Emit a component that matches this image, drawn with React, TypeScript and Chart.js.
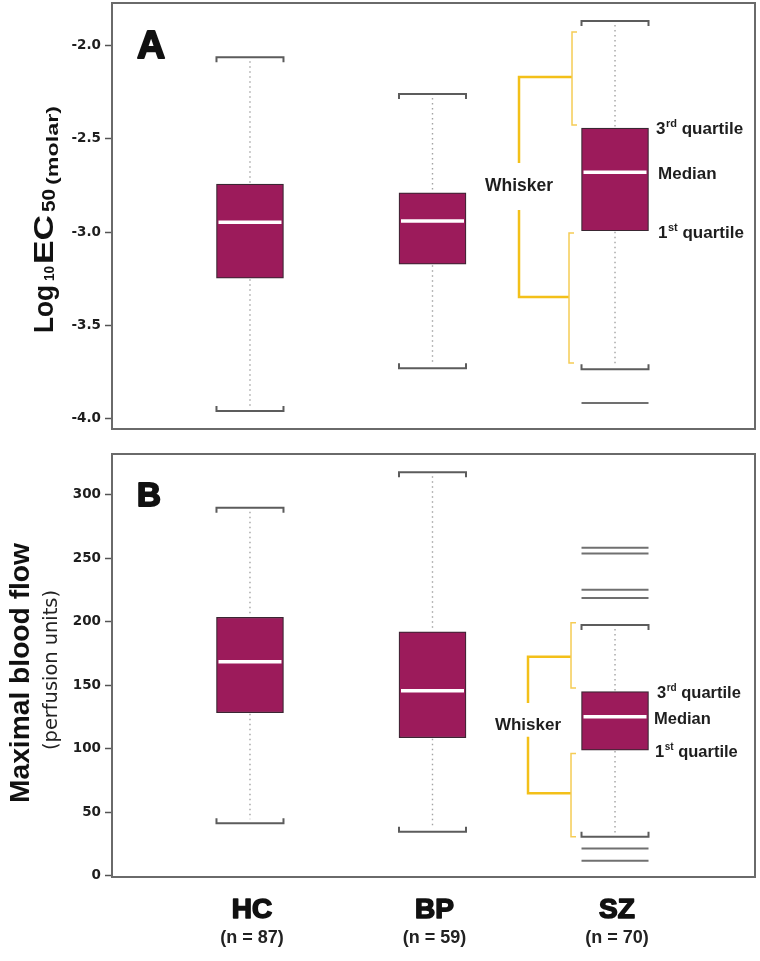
import React, { useEffect, useRef } from 'react';
import { Chart, registerables } from 'chart.js';

Chart.register(...registerables);

// ---------- data ----------
const groups = ['HC', 'BP', 'SZ'];
const groupCounts = ['(n = 87)', '(n = 59)', '(n = 70)'];

// Panel A: Log10 EC50 (molar)
const ecWhiskerLow = [-3.958, -3.728, -3.734];
const ecQ1 = [-3.246, -3.171, -2.992];
const ecMedian = [-2.946, -2.94, -2.678];
const ecQ3 = [-2.742, -2.789, -2.442];
const ecWhiskerHigh = [-2.062, -2.26, -1.869];
const ecOutliers = [[], [], [-3.915]];
const ecTicks = [-2.0, -2.5, -3.0, -3.5, -4.0];

// Panel B: Maximal blood flow (perfusion units)
const flowWhiskerLow = [41.4, 34.8, 30.9];
const flowQ1 = [128.4, 108.7, 99.0];
const flowMedian = [168.5, 145.7, 125.2];
const flowQ3 = [203.4, 192.0, 144.9];
const flowWhiskerHigh = [289.5, 317.4, 197.3];
const flowOutliers = [[], [], [258, 253.6, 225, 218.5, 21.7, 12.0]];
const flowTicks = [0, 50, 100, 150, 200, 250, 300];

// Annotation ("Whisker" guide) value spans
const ecGuide = { upper: [-1.928, -2.426], lower: [-3.004, -3.70], upperArm: -2.169, lowerArm: -3.347, upperStemEnd: -2.629, lowerStemStart: -2.881, textAt: -2.747 };
const flowGuide = { upper: [199.1, 147.8], lower: [96.4, 30.9], upperArm: 172.4, lowerArm: 65.0, upperStemEnd: 136.0, lowerStemStart: 109.5, textAt: 119.5 };

// ---------- styles ----------
const BOX_COLOR = '#9c1b5b';
const BOX_BORDER = '#3a2632';
const BOX_W = 67;
const FONT = '"Liberation Sans", Arial, sans-serif';
const YELLOW = '#f3c019';
const YELLOW_LIGHT = '#f5cc55';

function fitText(ctx: CanvasRenderingContext2D, text: string, x: number, y: number, font: string, target?: number) {
  ctx.font = font;
  const w = ctx.measureText(text).width;
  if (!target) { ctx.fillText(text, x, y); return w; }
  ctx.save();
  ctx.translate(x, y);
  ctx.scale(target / w, 1);
  ctx.fillText(text, 0, 0);
  ctx.restore();
  return target;
}

function line(ctx: CanvasRenderingContext2D, x1: number, y1: number, x2: number, y2: number) {
  ctx.beginPath(); ctx.moveTo(x1, y1); ctx.lineTo(x2, y2); ctx.stroke();
}

function ordinal(ctx: CanvasRenderingContext2D, num: string, sup: string, rest: string, x: number, y: number, size: number) {
  ctx.textAlign = 'left';
  ctx.font = `bold ${size}px ${FONT}`;
  ctx.fillText(num, x, y);
  let w = ctx.measureText(num).width + 0.5;
  ctx.font = `bold ${Math.round(size * 0.62)}px ${FONT}`;
  ctx.fillText(sup, x + w, y - size * 0.4);
  w += ctx.measureText(sup).width;
  ctx.font = `bold ${size}px ${FONT}`;
  ctx.fillText(rest, x + w, y);
}

interface PanelCfg {
  key: string;
  low: number[]; q1: number[]; med: number[]; q3: number[]; high: number[]; outliers: number[][];
  ticks: number[]; decimals: number; min: number; max: number;
  guide: typeof ecGuide;
  padTop: number; padBottom: number;
  stemDx: number; bracketDxU: number; bracketDxL: number;
  labelSize: number; labelDx: [number, number, number];
  letter: string; letterSize: number; letterDy: number;
  drawTitle: (ctx: CanvasRenderingContext2D) => void;
  drawXLabels: boolean;
}

function makePlugin(p: PanelCfg) {
  return {
    id: 'boxExtras' + p.key,
    afterDatasetsDraw(chart: any) {
      const ctx: CanvasRenderingContext2D = chart.ctx;
      const xs = chart.scales.x;
      const ys = chart.scales.y;
      const ca = chart.chartArea;
      const half = BOX_W / 2;
      ctx.save();
      for (let i = 0; i < groups.length; i++) {
        const cx = xs.getPixelForValue(i);
        const yLow = ys.getPixelForValue(p.low[i]);
        const yHigh = ys.getPixelForValue(p.high[i]);
        const yQ1 = ys.getPixelForValue(p.q1[i]);
        const yQ3 = ys.getPixelForValue(p.q3[i]);
        const yMed = ys.getPixelForValue(p.med[i]);
        // dotted whisker stems
        ctx.strokeStyle = '#a3a3a3';
        ctx.lineWidth = 1.4;
        ctx.setLineDash([1.5, 3.5]);
        line(ctx, cx, yHigh + 4, cx, yQ3 - 1);
        line(ctx, cx, yQ1 + 1, cx, yLow - 4);
        ctx.setLineDash([]);
        // caps (bracket style)
        ctx.strokeStyle = '#5c5c5c';
        ctx.lineWidth = 2;
        ctx.beginPath();
        ctx.moveTo(cx - half, yHigh + 5); ctx.lineTo(cx - half, yHigh); ctx.lineTo(cx + half, yHigh); ctx.lineTo(cx + half, yHigh + 5);
        ctx.stroke();
        ctx.beginPath();
        ctx.moveTo(cx - half, yLow - 5); ctx.lineTo(cx - half, yLow); ctx.lineTo(cx + half, yLow); ctx.lineTo(cx + half, yLow - 5);
        ctx.stroke();
        // median
        ctx.strokeStyle = '#ffffff';
        ctx.lineWidth = 3.5;
        line(ctx, cx - half + 2, yMed, cx + half - 2, yMed);
        // outliers
        ctx.strokeStyle = '#707070';
        ctx.lineWidth = 2;
        for (const o of p.outliers[i]) {
          const yo = ys.getPixelForValue(o);
          line(ctx, cx - half, yo, cx + half, yo);
        }
      }
      // frame
      ctx.strokeStyle = '#6a6a6a';
      ctx.lineWidth = 2;
      ctx.strokeRect(ca.left, ca.top, ca.right - ca.left, ca.bottom - ca.top);

      // Whisker guide on the SZ box
      const sz = groups.length - 1;
      const cx = xs.getPixelForValue(sz);
      const g = p.guide;
      const stemX = cx + p.stemDx;
      const bxU = cx + p.bracketDxU;
      const bxL = cx + p.bracketDxL;
      const Y = (v: number) => ys.getPixelForValue(v);
      ctx.strokeStyle = YELLOW;
      ctx.lineWidth = 2.5;
      ctx.beginPath();
      ctx.moveTo(stemX, Y(g.upperStemEnd)); ctx.lineTo(stemX, Y(g.upperArm)); ctx.lineTo(bxU, Y(g.upperArm));
      ctx.stroke();
      ctx.beginPath();
      ctx.moveTo(stemX, Y(g.lowerStemStart)); ctx.lineTo(stemX, Y(g.lowerArm)); ctx.lineTo(bxL, Y(g.lowerArm));
      ctx.stroke();
      ctx.strokeStyle = YELLOW_LIGHT;
      ctx.lineWidth = 1.5;
      ctx.beginPath();
      ctx.moveTo(bxU + 5, Y(g.upper[0])); ctx.lineTo(bxU, Y(g.upper[0])); ctx.lineTo(bxU, Y(g.upper[1])); ctx.lineTo(bxU + 5, Y(g.upper[1]));
      ctx.stroke();
      ctx.beginPath();
      ctx.moveTo(bxL + 5, Y(g.lower[0])); ctx.lineTo(bxL, Y(g.lower[0])); ctx.lineTo(bxL, Y(g.lower[1])); ctx.lineTo(bxL + 5, Y(g.lower[1]));
      ctx.stroke();

      ctx.fillStyle = '#1e1e1e';
      ctx.textBaseline = 'alphabetic';
      ctx.textAlign = 'center';
      ctx.font = `bold ${p.labelSize + 0.5}px ${FONT}`;
      ctx.fillText('Whisker', stemX, Y(g.textAt) + 6);
      const s = p.labelSize;
      ordinal(ctx, '3', 'rd', ' quartile', cx + p.labelDx[0], Y(p.q3[sz]) + 6, s);
      ctx.textAlign = 'left';
      ctx.font = `bold ${s}px ${FONT}`;
      ctx.fillText('Median', cx + p.labelDx[1], Y(p.med[sz]) + 7);
      ordinal(ctx, '1', 'st', ' quartile', cx + p.labelDx[2], Y(p.q1[sz]) + 7, s);
      ctx.restore();
    },
    afterDraw(chart: any) {
      const ctx: CanvasRenderingContext2D = chart.ctx;
      const ca = chart.chartArea;
      const xs = chart.scales.x;
      ctx.save();
      ctx.fillStyle = '#111';
      ctx.strokeStyle = '#111';
      ctx.textBaseline = 'alphabetic';
      // panel letter
      ctx.textAlign = 'left';
      ctx.font = `bold ${p.letterSize}px ${FONT}`;
      ctx.lineWidth = 2;
      ctx.lineJoin = 'round';
      ctx.fillText(p.letter, ca.left + 25, ca.top + p.letterDy);
      ctx.strokeText(p.letter, ca.left + 25, ca.top + p.letterDy);
      // axis title
      p.drawTitle(ctx);
      // group labels
      if (p.drawXLabels) {
        for (let i = 0; i < groups.length; i++) {
          const cx = xs.getPixelForValue(i) + 2;
          ctx.textAlign = 'center';
          ctx.font = `bold 28px ${FONT}`;
          ctx.lineWidth = 1.6;
          ctx.fillStyle = '#111';
          ctx.fillText(groups[i], cx, ca.bottom + 41);
          ctx.strokeText(groups[i], cx, ca.bottom + 41);
          ctx.font = `bold 18px ${FONT}`;
          ctx.fillStyle = '#222';
          ctx.fillText(groupCounts[i], cx, ca.bottom + 66);
        }
      }
      ctx.restore();
    },
  };
}

function drawTitleA(ctx: CanvasRenderingContext2D) {
  ctx.save();
  ctx.translate(53, 333);
  ctx.rotate(-Math.PI / 2);
  ctx.fillStyle = '#111';
  ctx.textAlign = 'left';
  fitText(ctx, 'Log', 0, 0, `bold 28px ${FONT}`, 48);
  fitText(ctx, '10', 52, 1, `bold 15px ${FONT}`, 15);
  fitText(ctx, 'EC', 69, 0, `bold 28px ${FONT}`, 49);
  fitText(ctx, '50', 121, 2, `bold 18px ${FONT}`, 23);
  fitText(ctx, '(molar)', 148, 5, `bold 16px ${FONT}`, 79);
  ctx.restore();
}

function drawTitleB(ctx: CanvasRenderingContext2D) {
  ctx.save();
  ctx.fillStyle = '#111';
  ctx.textAlign = 'left';
  ctx.translate(29, 803 - 440);
  ctx.rotate(-Math.PI / 2);
  fitText(ctx, 'Maximal blood flow', 0, 0, `bold 28px ${FONT}`, 260);
  ctx.restore();
  ctx.save();
  ctx.fillStyle = '#222';
  ctx.textAlign = 'left';
  ctx.translate(57, 750 - 440);
  ctx.rotate(-Math.PI / 2);
  fitText(ctx, '(perfusion units)', 0, 0, `19px "DejaVu Sans", sans-serif`, 160);
  ctx.restore();
}

const panelA: PanelCfg = {
  key: 'A', low: ecWhiskerLow, q1: ecQ1, med: ecMedian, q3: ecQ3, high: ecWhiskerHigh, outliers: ecOutliers,
  ticks: ecTicks, decimals: 1, min: -4.054, max: -1.772, guide: ecGuide, padTop: 3, padBottom: 11,
  stemDx: -96, bracketDxU: -43, bracketDxL: -46, labelSize: 17, labelDx: [41, 43, 43],
  letter: 'A', letterSize: 39, letterDy: 55, drawTitle: drawTitleA, drawXLabels: false,
};

const panelB: PanelCfg = {
  key: 'B', low: flowWhiskerLow, q1: flowQ1, med: flowMedian, q3: flowQ3, high: flowWhiskerHigh, outliers: flowOutliers,
  ticks: flowTicks, decimals: 0, min: -0.8, max: 331.8, guide: flowGuide, padTop: 14, padBottom: 84,
  stemDx: -87, bracketDxU: -44, bracketDxL: -44, labelSize: 16.5, labelDx: [42, 39, 40],
  letter: 'B', letterSize: 33, letterDy: 52, drawTitle: drawTitleB, drawXLabels: true,
};

function buildConfig(p: PanelCfg): any {
  return {
    type: 'bar',
    data: {
      datasets: [{
        data: groups.map((_, i) => ({ x: i, y: [p.q1[i], p.q3[i]] })),
        backgroundColor: BOX_COLOR,
        borderColor: BOX_BORDER,
        borderWidth: 1.2,
        borderSkipped: false,
        barThickness: BOX_W,
        grouped: false,
      }],
    },
    options: {
      animation: false,
      responsive: false,
      devicePixelRatio: 1,
      layout: { padding: { left: 0, right: 5, top: p.padTop, bottom: p.padBottom } },
      plugins: { legend: { display: false }, tooltip: { enabled: false } },
      scales: {
        x: { type: 'linear', min: -0.756, max: 2.767, offset: false, display: false, grid: { offset: false } },
        y: {
          type: 'linear',
          min: p.min,
          max: p.max,
          afterBuildTicks: (s: any) => { s.ticks = p.ticks.map((v) => ({ value: v })); },
          afterFit: (s: any) => { s.width = 112; s.paddingTop = 0; s.paddingBottom = 0; },
          ticks: {
            autoSkip: false,
            padding: 4,
            color: '#1e1e1e',
            font: { family: '"DejaVu Sans", sans-serif', weight: 'bold', size: 13.5 },
            callback: (v: any) => Number(v).toFixed(p.decimals),
          },
          grid: { drawOnChartArea: false, drawTicks: true, tickLength: 7, color: '#555', tickWidth: 1.5 },
          border: { display: false },
        },
      },
    },
    plugins: [makePlugin(p)],
  };
}

export default function App() {
  const refA = useRef<HTMLCanvasElement>(null);
  const refB = useRef<HTMLCanvasElement>(null);
  useEffect(() => {
    const a = new Chart(refA.current as HTMLCanvasElement, buildConfig(panelA));
    const b = new Chart(refB.current as HTMLCanvasElement, buildConfig(panelB));
    return () => { a.destroy(); b.destroy(); };
  }, []);
  return (
    <div style={{ position: 'absolute', left: 0, top: 0, width: 760, height: 961, background: '#fff' }}>
      <canvas ref={refA} width={760} height={440} style={{ position: 'absolute', left: 0, top: 0, width: 760, height: 440 }} />
      <canvas ref={refB} width={760} height={521} style={{ position: 'absolute', left: 0, top: 440, width: 760, height: 521 }} />
    </div>
  );
}
